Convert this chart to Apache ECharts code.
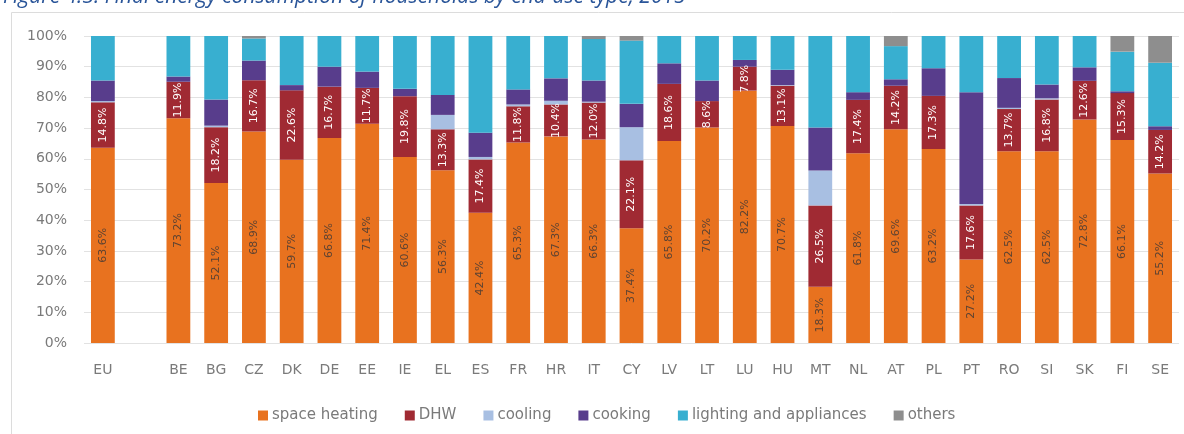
<!DOCTYPE html>
<html>
<head>
<meta charset="utf-8">
<script src="https://cdn.jsdelivr.net/npm/echarts@6/dist/echarts.min.js"></script>
<style>
html,body{margin:0;padding:0;background:#fff;}
#chart{width:1184px;height:434px;}
</style>
</head>
<body>
<div id="chart"></div>
<script>
const titleText = 'Figure 4.3: Final energy consumption of households by end-use type, 2015';
const categories = ['EU','','BE','BG','CZ','DK','DE','EE','IE','EL','ES','FR','HR','IT','CY','LV','LT','LU','HU','MT','NL','AT','PL','PT','RO','SI','SK','FI','SE'];
const seriesNames = ['space heating','DHW','cooling','cooking','lighting and appliances','others'];
const spaceHeating = [63.6,null,73.2,52.1,68.9,59.7,66.8,71.4,60.6,56.3,42.4,65.3,67.3,66.3,37.4,65.8,70.2,82.2,70.7,18.3,61.8,69.6,63.2,27.2,62.5,62.5,72.8,66.1,55.2];
const dhw          = [14.8,null,11.9,18.2,16.7,22.6,16.7,11.7,19.8,13.3,17.4,11.8,10.4,12.0,22.1,18.6,8.6,7.8,13.1,26.5,17.4,14.2,17.3,17.6,13.7,16.8,12.6,15.3,14.2];
const cooling      = [0.4,null,0,0.5,0,0,0,0,0,4.7,0.8,0.6,1.2,0.3,10.8,0,0,0,0.2,11.4,0,0,0,0.5,0.4,0.4,0,0,0];
const cooking      = [6.7,null,1.7,8.5,6.4,1.7,6.5,5.3,2.4,6.5,7.9,4.9,7.3,6.9,7.6,6.7,6.7,2.2,5.0,14.0,2.5,2.1,9.0,36.4,9.7,4.5,4.4,0.6,1.2];
const lighting     = [14.5,null,13.2,20.7,7.2,16.0,10.0,11.6,17.2,19.2,31.5,17.4,13.8,13.5,20.6,8.9,14.5,7.8,11.0,29.8,18.3,10.8,10.5,18.3,13.7,15.8,10.2,12.9,20.7];
const others       = [0,null,0,0,0.8,0,0,0,0,0,0,0,0,1.0,1.5,0,0,0,0,0,0,3.3,0,0,0,0,0,5.1,8.7];
const yTicks = [0,10,20,30,40,50,60,70,80,90,100];

const colors = ['#E8721F','#A02A33','#A8BFE2','#583D8C','#38AFD0','#8E8E8E'];
const seriesData = [spaceHeating, dhw, cooling, cooking, lighting, others];
const labelStyles = [
  {show:true, rotate:90, color:'#5e4332', fontSize:11, fontFamily:'DejaVu Sans'},
  {show:true, rotate:90, color:'#ffffff', fontSize:11, fontFamily:'DejaVu Sans'},
  null,null,null,null
];

const chart = echarts.init(document.getElementById('chart'), null, {renderer:'canvas'});
const series = seriesNames.map((name,i)=>({
  name: name,
  type: 'bar',
  stack: 'total',
  barWidth: '63%',
  itemStyle: {color: colors[i]},
  label: labelStyles[i] ? Object.assign({position:'inside', formatter: p => (p.value==null?'':p.value.toFixed(1)+'%')}, labelStyles[i]) : {show:false},
  data: seriesData[i]
}));

chart.setOption({
  animation: false,
  backgroundColor: '#ffffff',
  textStyle: {fontFamily: 'DejaVu Sans'},
  graphic: [
    {type:'rect', shape:{x:11.5, y:12.5, width:1200, height:440}, style:{fill:'none', stroke:'#dcdcdc', lineWidth:1}, silent:true},
    {type:'text', x:3, y:8, style:{text:titleText, fill:'#2A5599', font:'italic 21px "Open Sans"', textVerticalAlign:'bottom'}}
  ],
  legend: {
    left: 253, top: 403,
    itemWidth: 10, itemHeight: 10, itemGap: 27,
    icon: 'rect',
    textStyle: {color:'#7a7a7a', fontSize:15, fontFamily:'DejaVu Sans', padding:[0,0,0,-1]},
    data: seriesNames
  },
  grid: {left:84, right:5, top:36, bottom:91, containLabel:false},
  xAxis: {
    type:'category', data: categories,
    axisLine:{show:false}, axisTick:{show:false},
    axisLabel:{color:'#7a7a7a', fontSize:14, margin:20, interval:0}
  },
  yAxis: {
    type:'value', min:0, max:100, interval:10,
    axisLine:{show:false}, axisTick:{show:false},
    splitLine:{lineStyle:{color:'#e2e2e2', width:1}},
    axisLabel:{color:'#7a7a7a', fontSize:14, margin:17, formatter: v => v+'%'}
  },
  series: series
});
</script>
</body>
</html>
